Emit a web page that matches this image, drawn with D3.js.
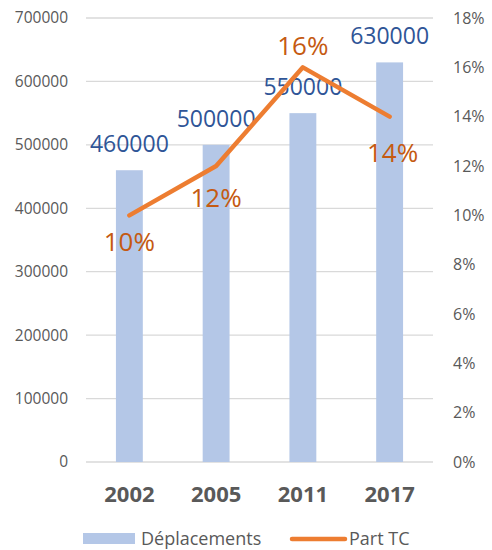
<!DOCTYPE html>
<html>
<head>
<meta charset="utf-8">
<script src="https://cdn.jsdelivr.net/npm/d3@7"></script>
<style>
  body { margin: 0; background: #fff; }
  text { font-family: "Open Sans", sans-serif; }
</style>
</head>
<body>
<div id="vis"></div>
<script>
const years = ['2002', '2005', '2011', '2017'];
const deplacements = [460000, 500000, 550000, 630000];
const partTC = [0.10, 0.12, 0.16, 0.14];
const leftTicks = [0, 100000, 200000, 300000, 400000, 500000, 600000, 700000];
const rightTicks = [0, 0.02, 0.04, 0.06, 0.08, 0.10, 0.12, 0.14, 0.16, 0.18];

const W = 492, H = 550;
const margin = {top: 18, right: 59, bottom: 88, left: 86};
const width = W - margin.left - margin.right;
const height = H - margin.top - margin.bottom;

const svg = d3.select('#vis')
    .append('svg')
    .attr('width', W)
    .attr('height', H)
    .append('g')
    .attr('transform', `translate(${margin.left},${margin.top})`);

const x = d3.scaleBand()
    .domain(years)
    .range([0, width])
    .paddingInner(0.69)
    .paddingOuter(0.345);

const yL = d3.scaleLinear().domain([0, 700000]).range([height, 0]);
const yR = d3.scaleLinear().domain([0, 0.18]).range([height, 0]);

const grey = '#595959';

// gridlines
svg.append('g')
    .selectAll('line')
    .data(leftTicks)
    .join('line')
    .attr('x1', 0)
    .attr('x2', width)
    .attr('y1', d => yL(d))
    .attr('y2', d => yL(d))
    .attr('stroke', '#d9d9d9')
    .attr('stroke-width', 1.3);

// left axis
const leftAxis = svg.append('g')
    .call(d3.axisLeft(yL).tickValues(leftTicks).tickFormat(d3.format('d')).tickSize(0).tickPadding(18));
leftAxis.select('.domain').remove();
leftAxis.selectAll('text')
    .attr('fill', grey)
    .style('font-size', '15.5px');

// right axis
const rightAxis = svg.append('g')
    .attr('transform', `translate(${width},0)`)
    .call(d3.axisRight(yR).tickValues(rightTicks).tickFormat(d3.format('.0%')).tickSize(0).tickPadding(20));
rightAxis.select('.domain').remove();
rightAxis.selectAll('text')
    .attr('fill', grey)
    .style('font-size', '16px');

// bottom axis
const bottomAxis = svg.append('g')
    .attr('transform', `translate(0,${height})`)
    .call(d3.axisBottom(x).tickSize(0).tickPadding(24));
bottomAxis.select('.domain').remove();
bottomAxis.selectAll('text')
    .attr('fill', grey)
    .style('font-size', '22px')
    .style('font-weight', 'bold');

// bars
svg.selectAll('rect.bar')
    .data(years)
    .join('rect')
    .attr('class', 'bar')
    .attr('x', d => x(d))
    .attr('y', (d, i) => yL(deplacements[i]))
    .attr('width', x.bandwidth())
    .attr('height', (d, i) => height - yL(deplacements[i]))
    .attr('fill', '#b4c7e7');

// bar labels
svg.selectAll('text.barlab')
    .data(years)
    .join('text')
    .attr('class', 'barlab')
    .attr('x', d => x(d) + x.bandwidth() / 2)
    .attr('y', (d, i) => yL(deplacements[i]) - 18)
    .attr('text-anchor', 'middle')
    .attr('fill', '#2f5597')
    .style('font-size', '23px')
    .text((d, i) => deplacements[i]);

// line
const line = d3.line()
    .x((d, i) => x(years[i]) + x.bandwidth() / 2)
    .y(d => yR(d));

svg.append('path')
    .datum(partTC)
    .attr('d', line)
    .attr('fill', 'none')
    .attr('stroke', '#ed7d31')
    .attr('stroke-width', 4.5)
    .attr('stroke-linecap', 'round')
    .attr('stroke-linejoin', 'round');

// line labels: vertical offset from each point (16% sits above)
const pctOffset = [36, 41, -12, 45];
svg.selectAll('text.pctlab')
    .data(partTC)
    .join('text')
    .attr('class', 'pctlab')
    .attr('x', (d, i) => x(years[i]) + x.bandwidth() / 2 + (i === 3 ? 3 : 0))
    .attr('y', (d, i) => yR(d) + pctOffset[i])
    .attr('text-anchor', 'middle')
    .attr('fill', '#c55a11')
    .style('font-size', '26px')
    .text(d => d3.format('.0%')(d));

// legend
const legend = svg.append('g')
    .attr('transform', `translate(0,${height})`);

legend.append('rect')
    .attr('x', -3)
    .attr('y', 71)
    .attr('width', 52)
    .attr('height', 11)
    .attr('fill', '#b4c7e7');

legend.append('text')
    .attr('x', 55)
    .attr('y', 83)
    .attr('fill', grey)
    .style('font-size', '18px')
    .text('Déplacements');

legend.append('line')
    .attr('x1', 206)
    .attr('x2', 259)
    .attr('y1', 77)
    .attr('y2', 77)
    .attr('stroke', '#ed7d31')
    .attr('stroke-width', 4.5)
    .attr('stroke-linecap', 'round');

legend.append('text')
    .attr('x', 263)
    .attr('y', 83)
    .attr('fill', grey)
    .style('font-size', '18px')
    .text('Part TC');
</script>
</body>
</html>
